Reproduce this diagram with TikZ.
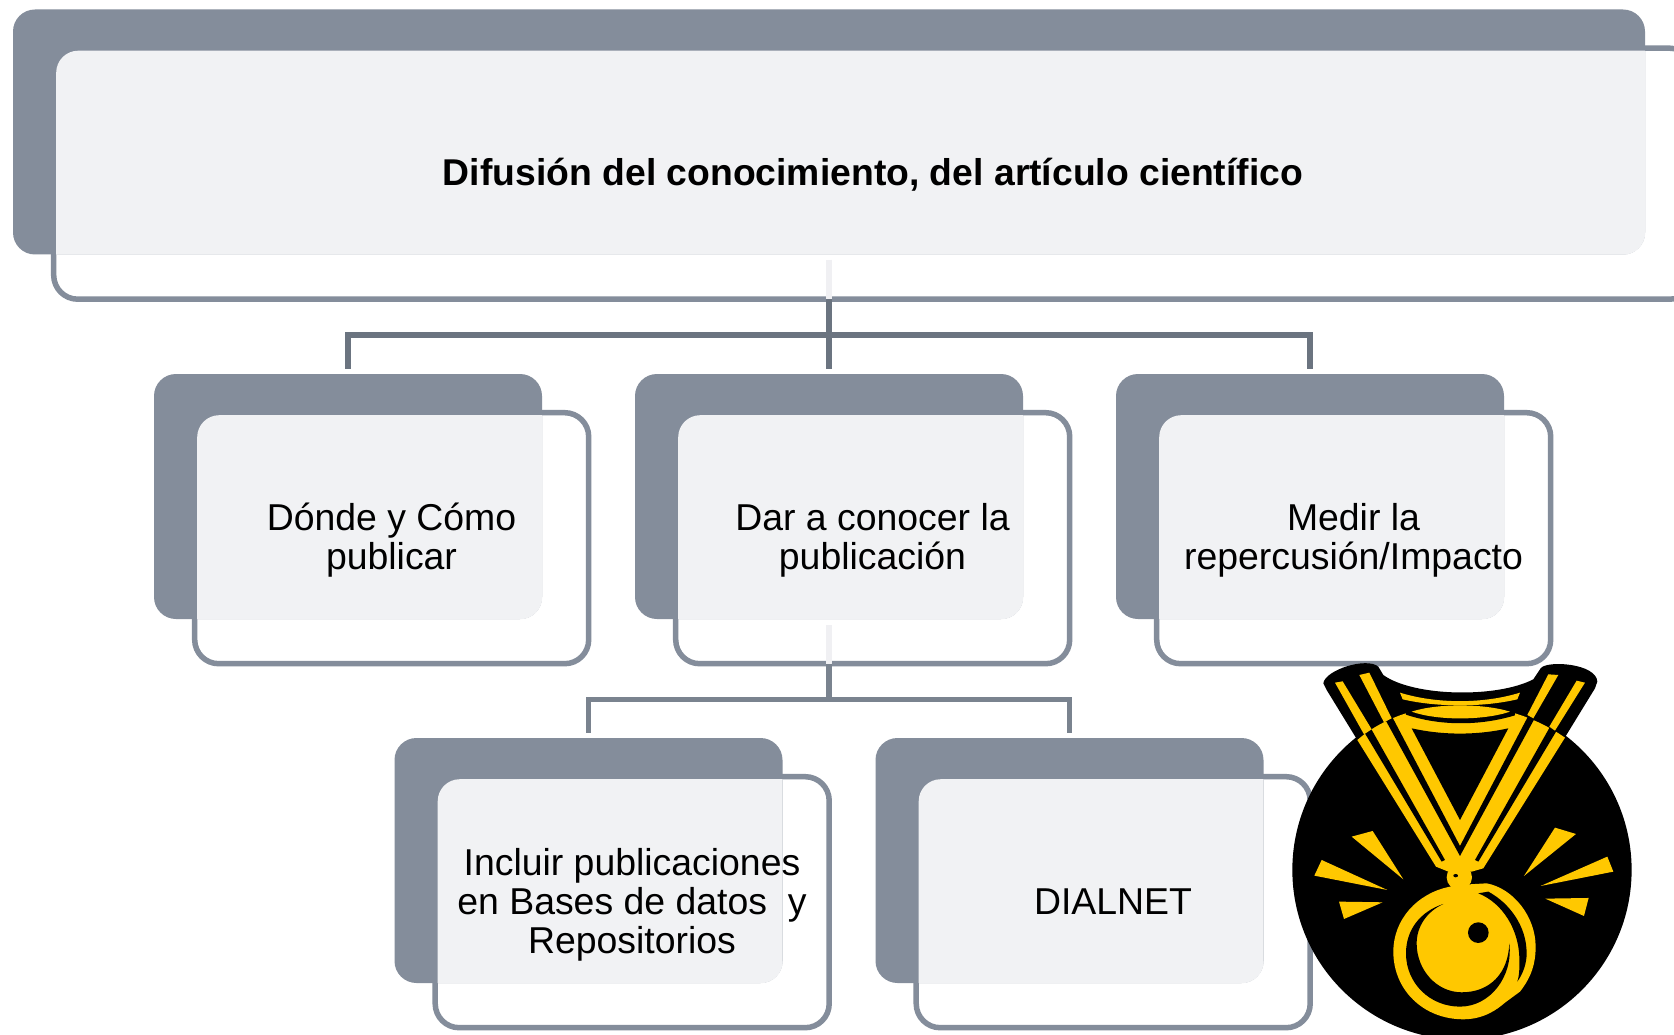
\documentclass[tikz,border=0pt]{standalone}
\usepackage{fontspec}
\setmainfont{Liberation Sans}
\definecolor{boxdark}{HTML}{848D9B}
\definecolor{boxlight}{HTML}{F1F2F4}
\definecolor{connA}{HTML}{6B7480}
\definecolor{connB}{HTML}{7A838F}
\definecolor{stub}{HTML}{F0F0F3}
\definecolor{gold}{HTML}{FFC800}
\tikzset{
  backbox/.style={fill=boxdark,draw=none,rounded corners=22pt,inner sep=0pt,outer sep=0pt,minimum width=#1},
  framebox/.style={draw=boxdark,line width=5.5pt,rounded corners=24pt,inner sep=0pt,outer sep=0pt,minimum width=#1},
  label/.style={text=black,align=center,inner sep=0pt,font=\fontsize{37.4}{39}\selectfont},
  connup/.style={draw=connA,line width=5.5pt},
  conndown/.style={draw=connB,line width=5.5pt},
  stubline/.style={draw=stub,line width=5.5pt},
  gp/.style={fill=gold,draw=none},
  bk/.style={fill=black,draw=none}
}
% name, dark left, dark top, dark width, frame width
\newcommand{\tierbox}[5]{%
  \node[backbox=#4 pt,minimum height=245pt,anchor=north west] (d#1) at (#2,#3) {};
  \node[framebox=#5 pt,minimum height=251pt,anchor=north west] (f#1) at ($(#2,#3)+(40.7,38.7)$) {};
  \begin{scope}
    \clip[rounded corners=22pt] ($(#2,#3)+(-0.2,-0.2)$) rectangle ++(#4+0.4,245.4);
    \fill[boxlight,rounded corners=22pt] ($(#2,#3)+(43.2,41.2)$) rectangle ++(#5-5,245);
  \end{scope}
}
\usetikzlibrary{calc}
\begin{document}
\begin{tikzpicture}[x=1pt,y=-1pt]
\useasboundingbox (0,0) rectangle (1674,1035);
\clip (0,0) rectangle (1674,1035);
\fill[white] (0,0) rectangle (1674,1035);

\tierbox{0}{13}{9.5}{1632}{1640}
\tierbox{1}{154}{374}{388}{394}
\tierbox{2}{635}{374}{388}{394}
\tierbox{3}{1116}{374}{388}{394}
\tierbox{4}{394.5}{738}{388}{394}
\tierbox{5}{875.5}{738}{388}{394}

% connectors level 1
\coordinate (ja) at (829,335);
\coordinate (sa) at (829,260);
\coordinate (sb) at (829,625);
\coordinate (jb) at (829,699.5);
\draw[stubline] (sa) -- (f0.south -| sa);
\draw[connup] (f0.south -| ja) -- (ja);
\draw[connup,shorten >=5pt] (ja) -| (d1.north);
\draw[connup,shorten >=5pt] (ja) -- (d2.north);
\draw[connup,shorten >=5pt] (ja) -| (d3.north);
% connectors level 2
\draw[stubline] (sb) -- (f2.south -| sb);
\draw[conndown] (f2.south -| jb) -- (jb);
\draw[conndown,shorten >=5pt] (jb) -| (d4.north);
\draw[conndown,shorten >=5pt] (jb) -| (d5.north);

% texts
\node[label,font=\fontsize{37.3}{39}\selectfont\bfseries] (t0) at (873,175) {Difusión del conocimiento, del artículo científico};
\node[label] (t1) at (391.5,540) {Dónde y Cómo\\publicar};
\node[label] (t2) at (872.5,540) {Dar a conocer la\\publicación};
\node[label] (t3) at (1353.5,540) {Medir la\\repercusión/Impacto};
\node[label] (t4) at (632,905) {Incluir publicaciones\\en Bases de datos\ \ y\\Repositorios};
\node[label] (t5) at (1113,902) {DIALNET};

% medal
\begin{scope}[shift={(1270,640)},x=0.3333pt,y=-0.3333pt]
  \fill[bk] (576,690) circle [x radius=509,y radius=509];
  \fill[bk] (160,130) .. controls (165,90) and (290,50) .. (325,80) -- (340,105)
     .. controls (430,170) and (680,175) .. (790,118) -- (812,85)
     .. controls (830,60) and (980,70) .. (982,125) -- (975,145) -- (880,300) -- (262,300) -- (170,150) -- cycle;
  % yellow silhouette of the ribbon
  \fill[gp] (262,300) .. controls (330,240) and (440,195) .. (570,195)
     .. controls (700,195) and (810,240) .. (885,293)
     -- (640,685) -- (605,695) -- (535,695) -- (498,680) -- cycle;
  % black cuts
  \fill[bk] (340,228) -- (570,648) -- (798,228) -- (780,218) -- (570,618) -- (360,218) -- cycle;
  \fill[bk] (280,272) -- (515,665) -- (525,660) -- (298,257) -- cycle;
  \fill[bk] (860,272) -- (625,665) -- (615,660) -- (842,257) -- cycle;
  \fill[bk] (425,265) .. controls (520,286) and (620,286) .. (715,265) -- (570,540) -- cycle;
  \fill[bk] (405,190) -- (408,224) .. controls (510,258) and (630,258) .. (735,226) -- (735,190) -- cycle;
  % strips above the arc
  \fill[gp] (268,105) -- (298,98) -- (365,235) -- (342,247) -- cycle;
  \fill[gp] (195,128) -- (218,124) -- (305,268) -- (282,283) -- cycle;
  \fill[gp] (835,103) -- (865,105) -- (790,235) -- (772,225) -- cycle;
  \fill[gp] (920,122) -- (945,128) -- (855,272) -- (838,260) -- cycle;
  % crescents at the neck
  \fill[gp] (390,158) .. controls (500,192) and (640,192) .. (750,158) -- (742,178)
     .. controls (640,202) and (500,202) .. (398,178) -- cycle;
  \fill[gp] (425,215) .. controls (500,190) and (640,190) .. (720,215)
     .. controls (640,242) and (500,242) .. (425,215) -- cycle;
  % bead
  \fill[gp] (568,712) circle [x radius=38,y radius=38];
  \fill[bk] (557,707) circle [x radius=7,y radius=5];
  % disc
  \fill[gp] (540,740) .. controls (440,760) and (370,840) .. (370,935)
     .. controls (370,1050) and (460,1138) .. (580,1138)
     .. controls (640,1138) and (680,1110) .. (705,1088) -- (750,1055)
     .. controls (785,1010) and (797,970) .. (797,920)
     .. controls (797,830) and (730,745) .. (650,730) -- (600,733) -- cycle;
  \fill[bk] (520,792) .. controls (450,815) and (408,870) .. (408,940)
     .. controls (408,1030) and (480,1100) .. (570,1100)
     .. controls (660,1100) and (730,1010) .. (718,910)
     .. controls (715,1000) and (660,1057) .. (575,1057)
     .. controls (500,1057) and (440,990) .. (440,910)
     .. controls (440,860) and (470,815) .. (520,792) -- cycle;
  \fill[bk] (625,760) -- (655,755) .. controls (720,790) and (770,860) .. (770,940)
     .. controls (770,970) and (760,1000) .. (742,1025)
     .. controls (750,1000) and (748,975) .. (748,950)
     .. controls (745,870) and (700,790) .. (625,760) -- cycle;
  \fill[bk] (625,878) circle [x radius=31,y radius=31];
  % rays
  \fill[gp] (245,590) -- (308,573) -- (400,718) -- cycle;
  \fill[gp] (155,660) -- (133,707) -- (352,750) -- cycle;
  \fill[gp] (207,785) -- (338,787) -- (222,837) -- cycle;
  \fill[gp] (855,563) -- (918,582) -- (762,708) -- cycle;
  \fill[gp] (1012,650) -- (1030,695) -- (812,738) -- cycle;
  \fill[gp] (826,776) -- (956,774) -- (942,828) -- cycle;
\end{scope}
\end{tikzpicture}
\end{document}
